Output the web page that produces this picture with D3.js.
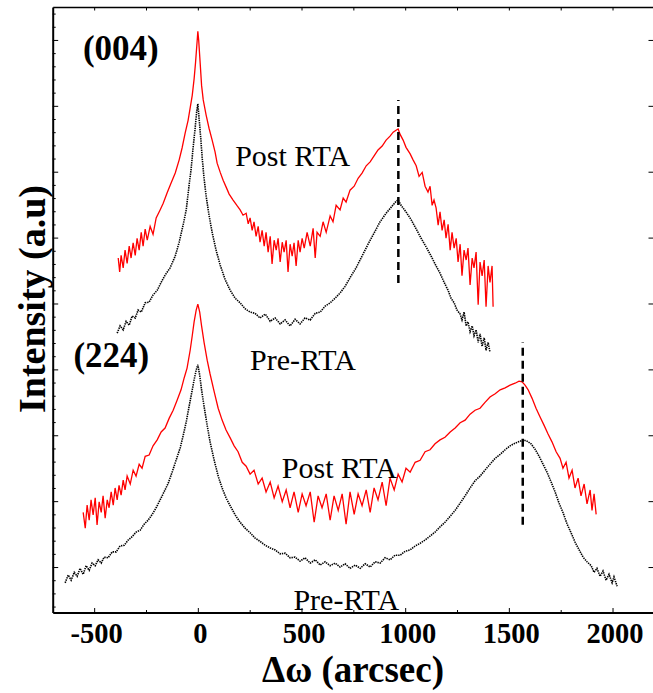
<!DOCTYPE html>
<html>
<head>
<meta charset="utf-8">
<script src="https://cdn.jsdelivr.net/npm/d3@7"></script>
<style>
  body { margin: 0; background: #fff; }
  svg text { font-family: 'Liberation Serif', 'Times New Roman', Times, 'DejaVu Serif', serif; }
</style>
</head>
<body>
<script>
// tick labels
const xTicks = [-500, 0, 500, 1000, 1500, 2000];
const xMinor = [-250, 250, 750, 1250, 1750];
const yTicks = [1, 2, 3, 4, 5, 6, 7, 8, 9];

// (004) post RTA, red
const post004 = [[-384,5.69],[-377,5.48],[-370,5.73],[-360,5.54],[-351,5.81],[-341,5.61],[-331,5.87],[-322,5.69],[-312,5.92],[-302,5.73],[-293,5.99],[-283,5.81],[-273,6.08],[-264,5.87],[-254,6.13],[-244,5.96],[-230,6.17],[-216,6.05],[-201,6.30],[-182,6.42],[-167,6.52],[-148,6.68],[-129,6.83],[-109,6.98],[-90,7.18],[-76,7.36],[-61,7.59],[-47,7.78],[-37,7.97],[-27,8.16],[-18,8.41],[-11,8.66],[-3,9.00],[0,9.13],[4,9.00],[11,8.66],[18,8.31],[26,8.09],[40,7.86],[54,7.66],[69,7.48],[83,7.30],[93,7.13],[108,6.99],[122,6.87],[136,6.77],[151,6.66],[170,6.57],[190,6.48],[204,6.42],[218,6.34],[233,6.37],[243,6.21],[252,6.30],[262,6.11],[271,6.24],[281,6.02],[291,6.17],[300,5.93],[310,6.11],[320,5.87],[329,6.08],[339,5.78],[349,6.02],[358,5.60],[368,5.96],[378,5.81],[387,5.99],[397,5.63],[407,5.93],[416,5.78],[426,5.96],[435,5.48],[445,5.90],[455,5.72],[464,5.92],[474,5.57],[484,5.96],[493,5.78],[503,5.99],[513,5.84],[527,6.08],[542,5.87],[556,6.14],[566,5.69],[575,6.08],[590,6.02],[604,6.24],[619,6.08],[638,6.33],[652,6.24],[667,6.49],[686,6.42],[701,6.60],[715,6.54],[734,6.72],[754,6.78],[773,6.90],[792,6.98],[812,7.09],[831,7.15],[850,7.24],[869,7.33],[889,7.39],[908,7.48],[927,7.54],[942,7.60],[956,7.63],[966,7.65],[975,7.57],[990,7.48],[1004,7.37],[1024,7.27],[1038,7.18],[1053,7.09],[1067,6.93],[1082,6.99],[1096,6.78],[1110,6.69],[1120,6.78],[1130,6.49],[1139,6.57],[1149,6.45],[1159,6.19],[1168,6.39],[1178,6.11],[1188,6.27],[1197,5.99],[1207,6.20],[1217,5.81],[1226,6.08],[1236,5.84],[1246,5.99],[1255,5.63],[1265,5.90],[1274,5.42],[1284,5.81],[1294,5.66],[1303,5.84],[1313,5.28],[1323,5.69],[1332,5.54],[1342,5.78],[1352,4.98],[1361,5.63],[1371,5.42],[1381,5.66],[1390,4.95],[1400,5.57],[1409,5.32],[1419,5.57],[1424,4.95]];

// (004) pre RTA, black dotted
const pre004 = [[-389,4.55],[-375,4.66],[-360,4.60],[-346,4.73],[-331,4.67],[-317,4.81],[-302,4.78],[-288,4.90],[-273,4.87],[-254,5.01],[-235,5.02],[-216,5.13],[-196,5.20],[-177,5.32],[-158,5.43],[-134,5.54],[-109,5.72],[-90,5.93],[-71,6.19],[-56,6.42],[-42,6.80],[-32,7.05],[-23,7.36],[-13,7.66],[-6,7.90],[0,8.03],[6,7.81],[14,7.51],[21,7.21],[30,6.90],[40,6.63],[54,6.34],[69,6.08],[88,5.81],[108,5.58],[132,5.36],[156,5.20],[180,5.08],[204,5.01],[228,4.92],[252,4.87],[276,4.85],[300,4.78],[325,4.84],[349,4.73],[373,4.78],[397,4.69],[421,4.75],[445,4.66],[469,4.76],[493,4.69],[517,4.78],[542,4.75],[566,4.85],[590,4.87],[614,4.96],[638,5.01],[662,5.08],[686,5.16],[710,5.26],[734,5.39],[763,5.54],[792,5.72],[821,5.90],[850,6.07],[879,6.24],[908,6.37],[932,6.46],[956,6.55],[966,6.57],[980,6.49],[1004,6.39],[1029,6.27],[1053,6.13],[1077,5.99],[1101,5.86],[1125,5.72],[1149,5.57],[1168,5.46],[1188,5.32],[1207,5.20],[1221,5.08],[1236,5.01],[1250,4.90],[1265,4.84],[1274,4.75],[1284,4.87],[1294,4.66],[1303,4.72],[1313,4.57],[1323,4.66],[1332,4.51],[1342,4.60],[1352,4.41],[1361,4.54],[1371,4.35],[1381,4.48],[1390,4.29],[1400,4.41],[1409,4.26]];

// (224) post RTA, red
const post224 = [[-553,1.83],[-543,1.59],[-534,1.94],[-524,1.71],[-515,2.02],[-505,1.79],[-495,2.05],[-486,1.64],[-476,1.99],[-466,1.83],[-457,2.08],[-447,1.74],[-437,2.02],[-428,1.90],[-418,2.14],[-408,1.94],[-399,2.20],[-389,2.02],[-380,2.24],[-370,2.09],[-360,2.32],[-351,2.17],[-341,2.38],[-326,2.26],[-312,2.47],[-298,2.38],[-283,2.56],[-269,2.50],[-254,2.68],[-235,2.70],[-216,2.84],[-196,2.93],[-177,3.05],[-158,3.11],[-138,3.26],[-119,3.38],[-100,3.53],[-81,3.69],[-66,3.87],[-52,4.02],[-37,4.29],[-27,4.51],[-18,4.72],[-8,4.90],[0,4.99],[9,4.87],[18,4.66],[30,4.41],[45,4.14],[59,3.93],[79,3.66],[98,3.41],[117,3.23],[136,3.08],[156,2.96],[175,2.84],[194,2.75],[214,2.59],[233,2.53],[252,2.41],[271,2.47],[291,2.26],[310,2.35],[329,2.14],[349,2.29],[368,2.05],[387,2.23],[407,1.99],[426,2.17],[445,1.90],[464,2.14],[484,1.83],[503,2.11],[522,1.93],[542,2.14],[561,1.68],[580,2.08],[599,1.90],[619,2.11],[638,1.71],[657,2.08],[677,1.86],[696,2.11],[715,1.65],[734,2.14],[754,1.80],[773,2.11],[792,1.93],[812,2.17],[831,1.83],[850,2.20],[869,2.02],[889,2.29],[908,1.93],[927,2.35],[947,2.17],[966,2.41],[985,2.29],[1004,2.50],[1024,2.44],[1048,2.59],[1072,2.62],[1096,2.75],[1120,2.78],[1144,2.87],[1168,2.93],[1192,2.97],[1217,3.05],[1241,3.11],[1265,3.19],[1289,3.23],[1313,3.32],[1337,3.38],[1361,3.41],[1385,3.50],[1409,3.58],[1434,3.63],[1458,3.69],[1482,3.72],[1506,3.76],[1530,3.79],[1549,3.82],[1564,3.81],[1578,3.76],[1593,3.69],[1612,3.56],[1631,3.41],[1650,3.28],[1670,3.15],[1689,3.02],[1708,2.90],[1728,2.75],[1747,2.65],[1761,2.50],[1776,2.59],[1790,2.35],[1805,2.47],[1819,2.20],[1834,2.35],[1848,2.08],[1863,2.26],[1877,1.96],[1892,2.17],[1901,1.86],[1911,2.11],[1921,1.80]];

// (224) pre RTA, black dotted
const pre224 = [[-640,0.76],[-625,0.88],[-611,0.80],[-596,0.92],[-582,0.86],[-568,0.98],[-553,0.89],[-539,1.02],[-524,0.95],[-510,1.06],[-495,1.02],[-481,1.11],[-466,1.06],[-452,1.15],[-433,1.14],[-413,1.23],[-394,1.23],[-375,1.32],[-355,1.33],[-336,1.41],[-317,1.46],[-298,1.53],[-278,1.56],[-259,1.65],[-240,1.71],[-220,1.80],[-201,1.90],[-182,2.02],[-163,2.14],[-143,2.27],[-124,2.44],[-105,2.62],[-85,2.81],[-71,2.99],[-56,3.20],[-42,3.44],[-27,3.69],[-18,3.84],[-8,3.99],[0,4.07],[9,3.91],[18,3.69],[30,3.44],[45,3.15],[59,2.90],[79,2.62],[98,2.38],[117,2.20],[136,2.05],[156,1.93],[180,1.79],[204,1.68],[228,1.59],[252,1.52],[276,1.44],[300,1.39],[325,1.33],[349,1.29],[373,1.26],[397,1.20],[421,1.21],[445,1.14],[469,1.15],[493,1.09],[517,1.14],[542,1.06],[566,1.11],[590,1.03],[614,1.08],[638,1.02],[662,1.06],[686,1.00],[710,1.05],[734,0.98],[759,1.03],[783,0.98],[807,1.05],[831,1.00],[855,1.08],[879,1.06],[903,1.14],[927,1.11],[951,1.18],[976,1.18],[1000,1.24],[1024,1.26],[1048,1.32],[1072,1.36],[1096,1.41],[1120,1.47],[1144,1.53],[1168,1.61],[1192,1.68],[1217,1.77],[1241,1.86],[1265,1.97],[1289,2.08],[1313,2.20],[1337,2.31],[1361,2.38],[1385,2.47],[1409,2.56],[1434,2.65],[1458,2.71],[1482,2.78],[1506,2.84],[1530,2.88],[1554,2.91],[1570,2.93],[1588,2.91],[1607,2.87],[1626,2.79],[1646,2.68],[1665,2.56],[1684,2.44],[1704,2.29],[1723,2.14],[1742,1.97],[1762,1.82],[1781,1.65],[1800,1.52],[1819,1.38],[1839,1.26],[1858,1.15],[1877,1.08],[1897,1.02],[1911,0.92],[1925,0.98],[1940,0.86],[1954,0.94],[1969,0.80],[1983,0.89],[1998,0.76],[2007,0.85],[2022,0.71]];

// satellite peak positions (dashed markers): [x, yFrom, yTo]
const peakMarks = [[967, 5.31, 8.09], [1567, 1.64, 4.41]];

const width = 653, height = 693;
const mLeft = 52.7, mRight = 654, mTop = 7, mBottom = 612.5;
const serif = "'Liberation Serif', 'Times New Roman', Times, 'DejaVu Serif', serif";

const svg = d3.select('body').append('svg')
    .attr('width', width)
    .attr('height', height)
    .attr('font-family', serif);

const x = d3.scaleLinear().domain([-700, 2200]).range([mLeft, mRight]);
const y = d3.scaleLinear().domain([0.31, 9.5]).range([mBottom, mTop]);

// axes, ticks pointing inward
const xAxis = svg.append('g')
    .attr('transform', `translate(0,${mBottom})`)
    .call(d3.axisBottom(x).tickValues(xTicks).tickFormat(d => String(d))
        .tickSizeInner(-4.5).tickSizeOuter(0).tickPadding(10));
xAxis.attr('font-family', serif);
xAxis.select('.domain').attr('stroke-width', 1.8);
xAxis.selectAll('text')
    .attr('dx', 2)
    .attr('font-weight', 'bold')
    .attr('font-size', 28.5)
    .attr('fill', '#000');

svg.append('g')
    .attr('transform', `translate(0,${mBottom})`)
    .call(d3.axisBottom(x).tickValues(xMinor).tickSize(-2.5).tickFormat(''))
    .select('.domain').remove();

const topAxis = svg.append('g')
    .attr('transform', `translate(0,${mTop})`)
    .call(d3.axisTop(x).tickValues(xTicks.concat(xMinor)).tickSizeInner(-3.5).tickSizeOuter(0).tickFormat(''));
topAxis.select('.domain').attr('stroke-width', 1.3);

const yAxis = svg.append('g')
    .attr('transform', `translate(${mLeft},0)`)
    .call(d3.axisLeft(y).tickValues(yTicks).tickSizeInner(-5.5).tickSizeOuter(0).tickFormat(''));
yAxis.select('.domain').attr('stroke-width', 2);

const yMinor = d3.range(0.4, 9.5, 0.2).filter(v => Math.abs(v - Math.round(v)) > 0.05);
svg.append('g')
    .attr('transform', `translate(${mLeft},0)`)
    .call(d3.axisLeft(y).tickValues(yMinor).tickSize(-3).tickFormat(''))
    .select('.domain').remove();

svg.append('g')
    .attr('transform', `translate(${mRight},0)`)
    .call(d3.axisRight(y).tickValues(yTicks).tickSizeInner(-5.5).tickSizeOuter(0).tickFormat(''));

// curves
const line = d3.line().x(d => x(d[0])).y(d => y(d[1]));

svg.append('path').datum(pre004)
    .attr('d', line).attr('fill', 'none')
    .attr('stroke', '#000').attr('stroke-width', 1.6).attr('stroke-dasharray', '1.4,0.9');
svg.append('path').datum(pre224)
    .attr('d', line).attr('fill', 'none')
    .attr('stroke', '#000').attr('stroke-width', 1.6).attr('stroke-dasharray', '1.4,0.9');
svg.append('path').datum(post004)
    .attr('d', line).attr('fill', 'none')
    .attr('stroke', '#ff0000').attr('stroke-width', 1.3);
svg.append('path').datum(post224)
    .attr('d', line).attr('fill', 'none')
    .attr('stroke', '#ff0000').attr('stroke-width', 1.3);

// dashed peak markers
svg.selectAll('line.peak').data(peakMarks).enter().append('line')
    .attr('class', 'peak')
    .attr('x1', d => x(d[0])).attr('x2', d => x(d[0]))
    .attr('y1', d => y(d[1])).attr('y2', d => y(d[2]))
    .attr('stroke', '#000').attr('stroke-width', 2.5).attr('stroke-dasharray', '8,5');

// annotations
const notes = [
    {t: '(004)', x: -554, y: 8.69, bold: true, size: 35},
    {t: 'Post RTA', x: 180, y: 7.09, size: 30},
    {t: 'Pre-RTA', x: 252, y: 3.99, size: 30},
    {t: '(224)', x: -600, y: 4.04, bold: true, size: 35},
    {t: 'Post RTA', x: 405, y: 2.35, size: 30},
    {t: 'Pre-RTA', x: 461, y: 0.35, size: 30}
];
svg.selectAll('text.note').data(notes).enter().append('text')
    .attr('class', 'note')
    .attr('x', d => x(d.x)).attr('y', d => y(d.y))
    .attr('font-size', d => d.size)
    .attr('font-weight', d => d.bold ? 'bold' : 'normal')
    .text(d => d.t);

// axis titles
svg.append('text')
    .attr('x', 353).attr('y', 682)
    .attr('text-anchor', 'middle')
    .attr('font-size', 37).attr('font-weight', 'bold')
    .text('Δω (arcsec)');

svg.append('text')
    .attr('transform', 'translate(45,299) rotate(-90)')
    .attr('text-anchor', 'middle')
    .attr('font-size', 38).attr('font-weight', 'bold')
    .text('Intensity (a.u)');
</script>
</body>
</html>
